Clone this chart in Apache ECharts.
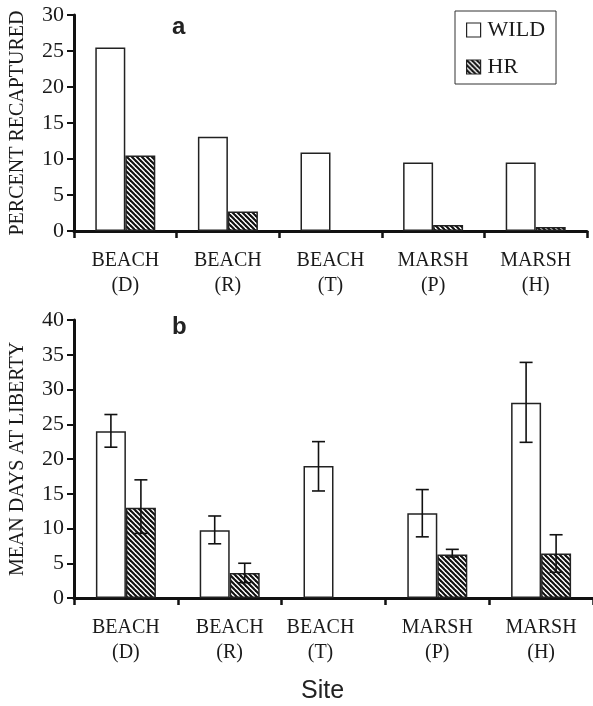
<!DOCTYPE html>
<html>
<head>
<meta charset="utf-8">
<script src="https://cdn.jsdelivr.net/npm/echarts@6/dist/echarts.min.js"></script>
<style>
html,body{margin:0;padding:0;background:#fff;}
#chart{width:593px;height:706px;}
</style>
</head>
<body>
<div id="chart"></div>
<script>
// ---- data ----
const categories = ['BEACH\n(D)', 'BEACH\n(R)', 'BEACH\n(T)', 'MARSH\n(P)', 'MARSH\n(H)'];
const seriesNames = ['WILD', 'HR'];
// panel a: percent recaptured
const pctWild = [25.5, 13.1, 10.9, 9.5, 9.5];
const pctHR = [10.5, 2.7, null, 0.85, 0.55];
// panel b: mean days at liberty
const daysWild = [24.0, 9.75, 19.0, 12.2, 28.1];
const daysWildLow = [21.7, 7.8, 15.4, 8.8, 22.4];
const daysWildHigh = [26.4, 11.8, 22.5, 15.6, 33.9];
const daysHR = [13.0, 3.6, null, 6.25, 6.4];
const daysHRLow = [9.3, 2.2, null, 5.9, 3.7];
const daysHRHigh = [17.0, 5.0, null, 7.0, 9.1];
const pctTicks = {min: 0, max: 30, interval: 5};
const daysTicks = {min: 0, max: 40, interval: 5};

// hatch pattern
function makeHatch() {
  const c = document.createElement('canvas');
  const s = 5;
  c.width = s; c.height = s;
  const ctx = c.getContext('2d');
  ctx.fillStyle = '#fff';
  ctx.fillRect(0, 0, s, s);
  ctx.strokeStyle = '#111';
  ctx.lineWidth = 2.1;
  for (let k = -1; k <= 1; k++) {
    ctx.beginPath();
    ctx.moveTo(-1, k * s - 1);
    ctx.lineTo(s + 1, s + k * s + 1);
    ctx.stroke();
  }
  return c;
}
const hatch = {image: makeHatch(), repeat: 'repeat'};

const serif = 'Liberation Serif';

function errData(low, high) {
  const out = [];
  for (let i = 0; i < low.length; i++) {
    if (low[i] != null) out.push([i, low[i], high[i]]);
  }
  return out;
}
function errSeries(gridIdx, low, high, offset) {
  return {
    type: 'custom',
    xAxisIndex: gridIdx, yAxisIndex: gridIdx,
    z: 5,
    silent: true,
    data: errData(low, high),
    renderItem: function (params, api) {
      const lo = api.coord([api.value(0), api.value(1)]);
      const hi = api.coord([api.value(0), api.value(2)]);
      const x = lo[0] + offset;
      const w = 6.5;
      const st = {stroke: '#111', lineWidth: 1.6};
      return {
        type: 'group',
        children: [
          {type: 'line', shape: {x1: x, y1: lo[1], x2: x, y2: hi[1]}, style: st},
          {type: 'line', shape: {x1: x - w, y1: lo[1], x2: x + w, y2: lo[1]}, style: st},
          {type: 'line', shape: {x1: x - w, y1: hi[1], x2: x + w, y2: hi[1]}, style: st}
        ]
      };
    }
  };
}

function xAxisCfg(gridIdx, data) {
  return {
    type: 'category', gridIndex: gridIdx, data: data,
    axisLine: {lineStyle: {color: '#111', width: 3}},
    axisTick: {show: true, length: 7, lineStyle: {color: '#111', width: 2.5}},
    axisLabel: {fontFamily: serif, fontSize: 20, color: '#1a1a1a', lineHeight: 25, margin: 17, interval: 0}
  };
}
function yAxisCfg(gridIdx, ticks, name) {
  return {
    type: 'value', gridIndex: gridIdx, min: ticks.min, max: ticks.max, interval: ticks.interval,
    name: name, nameLocation: 'middle', nameGap: 46, nameRotate: 90,
    nameTextStyle: {fontFamily: serif, fontSize: 20, color: '#1a1a1a'},
    axisLine: {show: true, lineStyle: {color: '#111', width: 3}},
    axisTick: {show: true, length: 7, lineStyle: {color: '#111', width: 2}},
    axisLabel: {fontFamily: serif, fontSize: 22, color: '#1a1a1a', margin: 10},
    splitLine: {show: false}
  };
}
// bottom panel: third label sits a little left of its slot
const bottomCats = categories.map((c, i) => i === 2 ? {value: c, textStyle: {padding: [0, 26, 0, 0]}} : c);

const barBase = {type: 'bar', barWidth: 30, barGap: '0%'};
const wildStyle = {color: '#fff', borderColor: '#222', borderWidth: 1.5};
const hrStyle = {color: hatch, borderColor: '#222', borderWidth: 1.5};

const chart = echarts.init(document.getElementById('chart'), null, {renderer: 'canvas'});
chart.setOption({
  animation: false,
  backgroundColor: '#fff',
  grid: [
    {left: 71, top: 15, width: 516, height: 216},
    {left: 71, top: 320, width: 525, height: 278}
  ],
  xAxis: [xAxisCfg(0, categories), xAxisCfg(1, bottomCats)],
  yAxis: [yAxisCfg(0, pctTicks, 'PERCENT RECAPTURED'), yAxisCfg(1, daysTicks, 'MEAN DAYS AT LIBERTY')],
  legend: {
    data: seriesNames,
    orient: 'vertical',
    left: 455, top: 11,
    itemWidth: 14, itemHeight: 14, itemGap: 15,
    padding: [8, 11, 6, 11],
    borderColor: '#333', borderWidth: 1,
    icon: 'rect',
    textStyle: {fontFamily: serif, fontSize: 22, color: '#1a1a1a', padding: [0, 0, 0, 2]},
    itemStyle: {borderColor: '#222', borderWidth: 1.2}
  },
  graphic: [
    {type: 'text', left: 172, top: 15, style: {text: 'a', font: 'bold 24px "Liberation Sans"', fill: '#222'}},
    {type: 'text', left: 172, top: 315, style: {text: 'b', font: 'bold 24px "Liberation Sans"', fill: '#222'}},
    {type: 'text', left: 301, top: 679, style: {text: 'Site', font: '25px "Liberation Sans"', fill: '#222'}}
  ],
  series: [
    Object.assign({}, barBase, {name: 'WILD', xAxisIndex: 0, yAxisIndex: 0, data: pctWild, itemStyle: wildStyle}),
    Object.assign({}, barBase, {name: 'HR', xAxisIndex: 0, yAxisIndex: 0, data: pctHR, itemStyle: hrStyle}),
    Object.assign({}, barBase, {name: 'WILD', xAxisIndex: 1, yAxisIndex: 1, data: daysWild, itemStyle: wildStyle}),
    Object.assign({}, barBase, {name: 'HR', xAxisIndex: 1, yAxisIndex: 1, data: daysHR, itemStyle: hrStyle}),
    errSeries(1, daysWildLow, daysWildHigh, -15),
    errSeries(1, daysHRLow, daysHRHigh, 15)
  ]
});
</script>
</body>
</html>
